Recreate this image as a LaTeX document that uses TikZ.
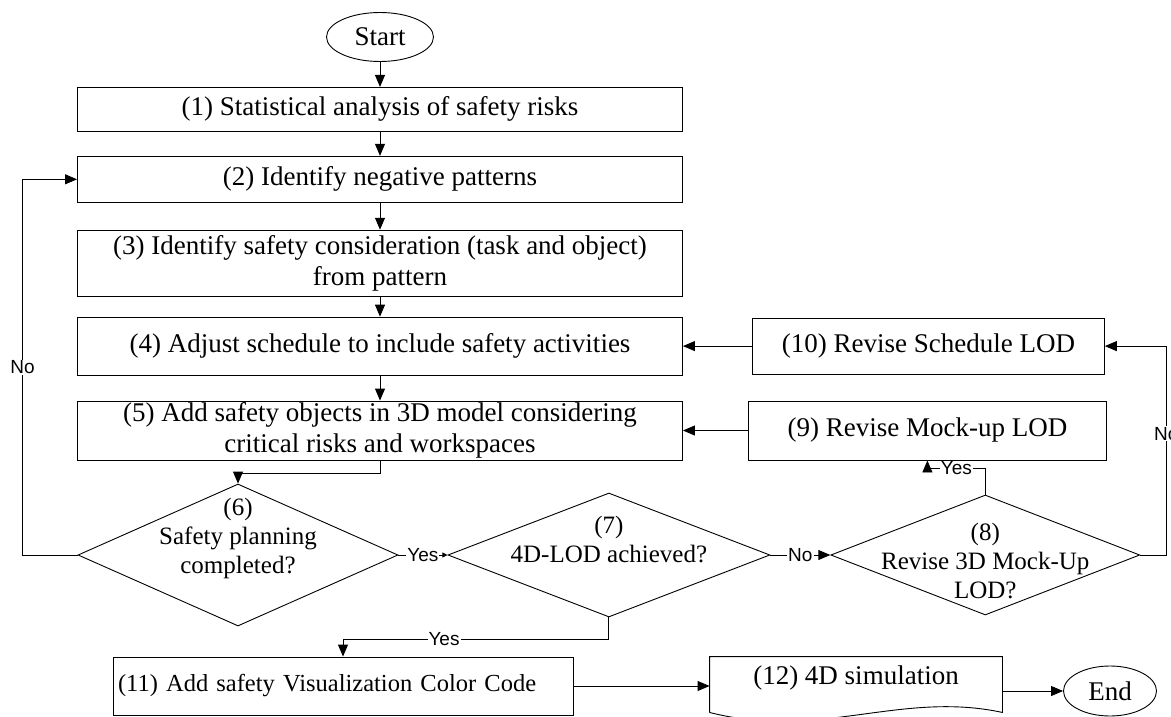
\documentclass[tikz,border=0pt]{standalone}
\usepackage{fontspec}
\setmainfont{Liberation Serif}
\newfontfamily\labelsans{Liberation Sans}
\usetikzlibrary{positioning, arrows.meta, shapes.geometric}

\newcommand{\boxfont}{\fontsize{27}{31}\selectfont}
\newcommand{\lowfont}{\fontsize{24.5}{29}\selectfont}
\newcommand{\askfont}{\fontsize{25}{29}\selectfont}
\newcommand{\ynfont}{\labelsans\fontsize{19}{21}\selectfont}

\begin{document}
\begin{tikzpicture}[
    x=1pt, y=-1pt,
    line width=0.9pt,
    stepbox/.style={rectangle, draw, minimum width=605pt, align=center, font=\boxfont, inner sep=1pt},
    sidebox/.style={rectangle, draw, align=center, font=\boxfont, inner sep=1pt},
    term/.style={ellipse, draw, font=\boxfont, inner sep=0pt},
    decision/.style={diamond, draw, inner sep=0pt},
    asktext/.style={align=center, font=\askfont},
    arrow/.style={-{Triangle[length=12pt, width=10pt]}},
    tinyarrow/.style={-{Triangle[length=5pt, width=5pt]}},
    yn/.style={font=\ynfont, fill=white, inner sep=1pt}
]
\useasboundingbox (0,0) rectangle (1171,717);

% main column
\node[term, minimum width=107pt, minimum height=49pt] (start) at (380,37) {Start};
\node[stepbox, minimum height=44pt, below=25pt of start] (s1) {(1) Statistical analysis of safety risks};
\node[stepbox, minimum height=46pt, below=24pt of s1] (s2) {(2) Identify negative patterns};
\node[stepbox, minimum height=66pt, below=27pt of s2] (s3) {(3) Identify safety consideration (task and object)\\from pattern};
\node[stepbox, minimum height=58pt, below=20pt of s3] (s4) {(4) Adjust schedule to include safety activities};
\node[stepbox, minimum height=59pt, below=25pt of s4] (s5) {(5) Add safety objects in 3D model considering\\critical risks and workspaces};

% decisions
\node[decision, minimum width=320pt, minimum height=142pt,
      label={[asktext, yshift=17pt]center:{(6)\\Safety planning\\completed?}}] (d6) at (238,555) {};
\node[decision, minimum width=322pt, minimum height=124pt, right=49pt of d6,
      label={[asktext, yshift=16pt]center:{(7)\\4D-LOD achieved?}}] (d7) {};
\node[decision, minimum width=309pt, minimum height=120pt, right=60pt of d7,
      label={[asktext, yshift=-6pt]center:{(8)\\Revise 3D Mock-Up\\LOD?}}] (d8) {};

% revision boxes
\node[sidebox, minimum width=352pt, minimum height=56pt, right=69pt of s4] (s10) {(10) Revise Schedule LOD};
\node[sidebox, minimum width=358pt, minimum height=59pt, right=65pt of s5] (s9) {(9) Revise Mock-up LOD};

% bottom row
\node[sidebox, font=\lowfont, text width=450pt, align=left, inner xsep=5pt,
      minimum height=58pt] (s11) at (343,686) {(11) Add safety Visualization Color Code};
\node[minimum width=292pt, minimum height=55pt, inner sep=0pt,
      label={[font=\boxfont, yshift=6pt]center:{(12) 4D simulation}}] (s12) at (856,684.5) {};
\draw (s12.south west) -- (s12.north west) -- (s12.north east) -- (s12.south east)
      .. controls +(-102,-22) and +(110,28) .. (s12.south west);
\node[term, minimum width=93pt, minimum height=50pt] (end) at (1110,691) {End};

% arrows
\draw[arrow] (start) -- (s1);
\draw[arrow] (s1) -- (s2);
\draw[arrow] (s2) -- (s3);
\draw[arrow] (s3) -- (s4);
\draw[arrow] (s4) -- (s5);
\draw[arrow] (s5.south) -- ++(0,13) -| (d6.north);
\draw[tinyarrow] (d6.east) -- node[yn] {Yes} (d7.west);
\draw[arrow] (d7.east) -- node[yn] {No} (d8.west);
\draw[arrow] (d8.north) -- ++(0,-26) -| node[yn, pos=0.25] {Yes} (s9.south);
\draw[arrow] (d8.east) -- ++(26,0) |- node[yn, pos=0.29] {No} (s10.east);
\draw[arrow] (s10.west) -- (s4.east);
\draw[arrow] (s9.west) -- (s9.west -| s5.east);
\draw[arrow] (d6.west) -- ++(-55,0) |- node[yn, pos=0.25] {No} (s2.west);
\draw[arrow] (d7.south) -- ++(0,22) -| node[yn, pos=0.31] {Yes} (s11.north);
\draw[arrow] (s11.east) -- (s11.east -| s12.west);
\draw[arrow] (s12.east |- end) -- (end.west);

\end{tikzpicture}
\end{document}
